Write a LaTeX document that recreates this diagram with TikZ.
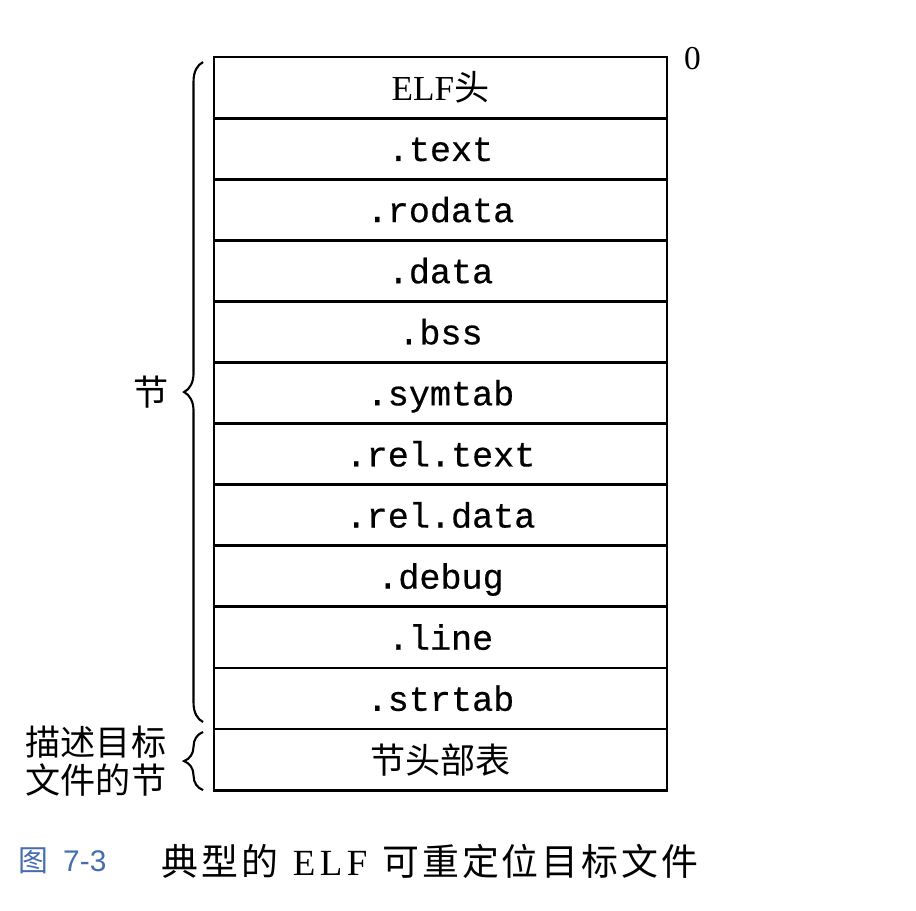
\documentclass[tikz,border=0pt]{standalone}
\usepackage{fontspec}
\setmainfont{Liberation Serif}
\setsansfont{Liberation Sans}
\newfontfamily\monof[FakeBold=0.5]{Liberation Mono}
\newfontfamily\cjk{Noto Sans CJK SC}
\definecolor{CaptionBlue}{RGB}{70,110,175}
\usetikzlibrary{positioning, decorations.pathreplacing}

\begin{document}
\begin{tikzpicture}[x=0.02cm, y=-0.02cm,
  sect/.style={draw, line width=1.6pt, minimum width=9.06cm,
               minimum height=1.222cm, inner sep=0pt, outer sep=0pt,
               text height=14pt, text depth=0pt,
               font=\monof\fontsize{20}{20}\selectfont},
  cjksect/.style={sect, text height=, text depth=,
                  font=\cjk\fontsize{20}{20}\selectfont},
  sectbrace/.style={decorate, decoration={brace, amplitude=0.38cm},
                    line width=1.2pt}]
  \useasboundingbox (0,0) rectangle (916,910);

  % sections of the object file
  \node[cjksect] (elfhdr) at (440.5,87.6)
    {{\rmfamily\fontsize{20}{20}\selectfont ELF}头};
  \node[sect, below=0pt of elfhdr] (text) {.text};
  \node[sect, below=0pt of text] (rodata) {.rodata};
  \node[sect, below=0pt of rodata] (data) {.data};
  \node[sect, below=0pt of data] (bss) {.bss};
  \node[sect, below=0pt of bss] (symtab) {.symtab};
  \node[sect, below=0pt of symtab] (reltext) {.rel.text};
  \node[sect, below=0pt of reltext] (reldata) {.rel.data};
  \node[sect, below=0pt of reldata] (debug) {.debug};
  \node[sect, below=0pt of debug] (line) {.line};
  \node[sect, below=0pt of line] (strtab) {.strtab};
  \node[cjksect, below=0pt of strtab] (shdrtab) {节头部表};

  \node[right=0.22cm of elfhdr.north east, yshift=-0.04cm,
        font=\rmfamily\fontsize{19}{19}\selectfont] (offset) {0};

  % braces
  \draw[sectbrace] ([xshift=-0.22cm,yshift=0.14cm]strtab.south west)
    -- node[midway, left=0.56cm, font=\cjk\fontsize{20}{20}\selectfont]
       (seclabel) {节}
    ([xshift=-0.22cm,yshift=-0.1cm]elfhdr.north west);
  \draw[sectbrace] ([xshift=-0.22cm]shdrtab.south west)
    -- node[midway, left=0.6cm, align=center,
            font=\cjk\fontsize{20}{21.5}\selectfont]
       (desclabel) {描述目标\\文件的节}
    ([xshift=-0.22cm,yshift=-0.06cm]shdrtab.north west);

  % caption
  \node[anchor=west, text=CaptionBlue, inner sep=0pt,
        font=\sffamily\fontsize{17}{17}\selectfont] (figno) at (18,861)
    {{\cjk 图}\hspace{0.3cm}7-3};
  \node[anchor=west, inner sep=0pt,
        font=\cjk\addfontfeature{LetterSpace=8}\fontsize{21}{21}\selectfont]
    (figcap) at (161,861)
    {典型的\hspace{0.3cm}{\rmfamily\addfontfeature{LetterSpace=12}ELF}\hspace{0.3cm}可重定位目标文件};
\end{tikzpicture}
\end{document}
